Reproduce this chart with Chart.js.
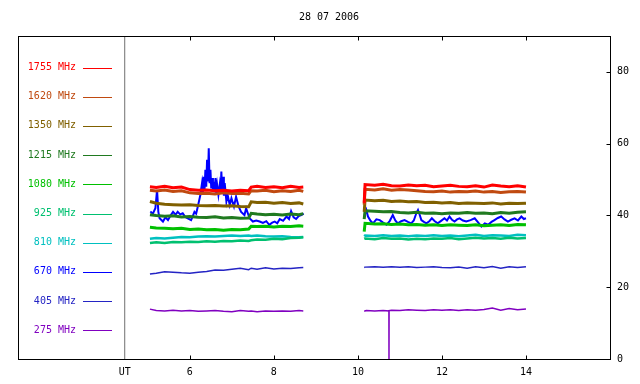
<!DOCTYPE html>
<html>
<head>
<meta charset="utf-8">
<script src="https://cdn.jsdelivr.net/npm/chart.js@4"></script>
<style>
  html, body { margin: 0; padding: 0; background: #fff; }
  #wrap { width: 640px; height: 384px; }
</style>
</head>
<body>
<div id="wrap"><canvas id="c" width="640" height="384"></canvas></div>
<script>
// chart data (UT hours, flux)
const TITLE = '28 07 2006';
const X_TICKS = [6, 8, 10, 12, 14];
const Y_TICKS = [0, 20, 40, 60, 80];
const UT_X = 4.45;

const TIMES = [5.05, 5.2, 5.4, 5.6, 5.8, 6.0, 6.2, 6.4, 6.6, 6.8, 7.0, 7.2, 7.4, 7.46, 7.6, 7.8, 8.0, 8.2, 8.4, 8.6, 8.7,
  9.4,
  10.15, 10.17, 10.4, 10.6, 10.8, 11.0, 11.2, 11.4, 11.6, 11.8, 12.0, 12.2, 12.4, 12.6, 12.8, 13.0, 13.2, 13.4, 13.6, 13.8, 14.0];

const MHZ_1755 = [48.0, 47.8, 48.1, 47.7, 47.9, 47.2, 47.0, 47.1, 46.9, 47.0, 46.8, 47.0, 46.9, 47.9, 48.1, 47.8, 48.0, 47.7, 48.1, 47.8, 47.9,
  null,
  43.5, 48.6, 48.4, 48.7, 48.3, 48.2, 48.5, 48.3, 48.4, 48.0, 48.2, 48.4, 48.1, 48.0, 48.3, 47.9, 48.5, 48.2, 48.0, 48.3, 47.9];
const MHZ_1620 = [47.0, 46.8, 47.1, 46.7, 46.9, 46.3, 46.1, 46.2, 46.0, 46.3, 46.1, 46.2, 46.0, 46.9, 46.8, 47.0, 46.6, 46.9, 46.7, 47.0, 46.7,
  null,
  43.0, 47.3, 47.1, 47.4, 47.0, 47.2, 47.1, 46.9, 46.7, 46.6, 46.8, 46.5, 46.7, 46.6, 46.8, 46.5, 46.7, 46.4, 46.6, 46.7, 46.5];
const MHZ_1350 = [43.9, 43.4, 43.1, 43.0, 42.9, 43.0, 42.8, 42.7, 42.8, 42.6, 42.7, 42.5, 42.4, 43.8, 43.6, 43.7, 43.4, 43.6, 43.3, 43.5, 43.2,
  null,
  41.0, 44.3, 44.1, 44.2, 43.9, 44.0, 43.8, 43.9, 43.6, 43.7, 43.5, 43.6, 43.3, 43.5, 43.4, 43.3, 43.5, 43.2, 43.4, 43.3, 43.4];
const MHZ_1215 = [40.2, 40.0, 39.8, 39.9, 39.6, 39.7, 39.5, 39.4, 39.6, 39.3, 39.4, 39.2, 39.3, 40.6, 40.4, 40.2, 40.3, 40.1, 40.4, 40.2, 40.5,
  null,
  39.0, 41.3, 41.2, 41.0, 41.1, 40.8, 40.7, 40.9, 40.6, 40.7, 40.5, 40.7, 40.6, 40.8, 40.6, 40.7, 40.5, 40.8, 40.6, 40.9, 41.0];
const MHZ_1080 = [36.7, 36.5, 36.4, 36.3, 36.4, 36.1, 36.2, 36.0, 36.1, 35.9, 36.1, 36.0, 36.2, 37.0, 36.9, 37.0, 36.8, 37.0, 36.9, 37.1, 37.0,
  null,
  35.5, 37.8, 37.6, 37.7, 37.5, 37.6, 37.4, 37.5, 37.3, 37.4, 37.2, 37.4, 37.3, 37.2, 37.4, 37.1, 37.3, 37.4, 37.2, 37.5, 37.4];
const MHZ_925 = [32.3, 32.5, 32.3, 32.6, 32.5, 32.7, 32.6, 32.8, 32.7, 32.9, 32.8, 33.0, 32.9, 33.1, 33.3, 33.2, 33.5, 33.4, 33.7, 33.8, 33.9,
  null,
  33.5, 33.6, 33.4, 33.7, 33.5, 33.6, 33.3, 33.5, 33.4, 33.6, 33.5, 33.7, 33.4, 33.6, 33.8, 33.6, 33.7, 33.5, 33.8, 33.6, 33.7];
const MHZ_810 = [33.5, 33.7, 33.6, 33.8, 34.0, 33.9, 34.1, 34.2, 34.1, 34.3, 34.4, 34.3, 34.4, 34.3, 34.4, 34.2, 34.1, 34.2, 34.0, 33.9, 34.0,
  null,
  34.2, 34.4, 34.3, 34.5, 34.3, 34.4, 34.2, 34.4, 34.3, 34.5, 34.3, 34.4, 34.2, 34.4, 34.6, 34.3, 34.5, 34.4, 34.3, 34.6, 34.5];
const MHZ_405 = [23.7, 23.9, 24.3, 24.2, 24.0, 23.9, 24.2, 24.4, 24.8, 24.7, 25.0, 25.3, 24.9, 25.3, 25.0, 25.4, 25.1, 25.3, 25.2, 25.4, 25.5,
  null,
  25.5, 25.6, 25.7, 25.6, 25.7, 25.6, 25.7, 25.5, 25.6, 25.7, 25.5, 25.4, 25.6, 25.3, 25.7, 25.4, 25.8, 25.3, 25.7, 25.5, 25.7];

// 670 MHz is the burst channel, sampled finer
const T_670 = [5.06, 5.12, 5.18, 5.22, 5.25, 5.28, 5.36, 5.42, 5.48, 5.54, 5.6, 5.66, 5.71, 5.77, 5.83, 5.89, 5.95, 6.03, 6.07, 6.11,
  6.15, 6.19, 6.25, 6.29, 6.31, 6.33, 6.35, 6.37, 6.39, 6.41, 6.43, 6.45, 6.47, 6.49, 6.51, 6.53, 6.55, 6.57, 6.59, 6.61, 6.63, 6.65,
  6.68, 6.71, 6.73, 6.75, 6.77, 6.79, 6.81, 6.83, 6.87, 6.9, 6.95, 6.99, 7.05, 7.1, 7.16, 7.22, 7.3, 7.34, 7.42, 7.5, 7.58, 7.66,
  7.74, 7.82, 7.89, 7.96, 8.02, 8.08, 8.14, 8.22, 8.3, 8.36, 8.41, 8.47, 8.53, 8.59, 8.65, 8.71,
  9.4,
  10.16, 10.2, 10.24, 10.3, 10.36, 10.44, 10.52, 10.6, 10.68, 10.76, 10.83, 10.89, 10.95, 11.03, 11.11, 11.19, 11.27, 11.33, 11.39,
  11.43, 11.47, 11.51, 11.57, 11.63, 11.7, 11.76, 11.83, 11.9, 11.98, 12.06, 12.12, 12.18, 12.24, 12.3, 12.36, 12.42, 12.5, 12.58,
  12.68, 12.78, 12.86, 12.94, 13.02, 13.1, 13.18, 13.25, 13.33, 13.41, 13.49, 13.57, 13.65, 13.73, 13.81, 13.89, 13.95, 14.0];
const MHZ_670 = [41.1, 40.5, 42.0, 47.1, 41.0, 39.2, 38.3, 39.5, 38.7, 40.0, 41.0, 40.2, 41.0, 40.3, 40.6, 39.6, 39.2, 38.7, 39.8, 41.0,
  40.5, 42.5, 45.7, 49.0, 46.5, 50.8, 47.2, 52.7, 48.0, 55.5, 49.5, 58.7, 49.0, 52.7, 47.5, 50.4, 46.8, 49.4, 46.5, 50.4, 46.2, 48.5,
  45.8, 48.5, 46.0, 52.2, 46.5, 50.8, 45.5, 49.0, 43.9, 45.7, 42.9, 44.8, 42.5, 45.2, 42.5, 41.0, 40.1, 42.0, 39.2, 38.3, 38.6, 38.3,
  37.9, 38.4, 37.4, 38.0, 38.3, 37.8, 39.0, 38.5, 39.7, 39.0, 41.2, 39.5, 39.0, 39.8, 40.1, 40.5,
  null,
  40.1, 41.5, 39.7, 38.5, 37.8, 38.9, 38.7, 38.0, 37.4, 38.5, 40.1, 38.6, 37.8, 38.4, 38.7, 38.2, 37.8, 38.6, 40.6,
  41.5, 40.2, 38.7, 38.2, 37.8, 38.4, 39.2, 38.4, 37.8, 38.5, 39.2, 38.6, 39.7, 38.8, 38.3, 38.9, 39.2, 38.6, 38.3,
  38.7, 39.2, 38.1, 36.9, 37.8, 37.4, 38.2, 38.7, 39.3, 39.7, 38.9, 38.3, 38.8, 39.2, 38.6, 39.7, 39.0, 39.2];

// 275 MHz has a single dropout to zero after 10 UT
const T_275 = [5.05, 5.2, 5.4, 5.6, 5.8, 6.0, 6.2, 6.4, 6.6, 6.8, 7.0, 7.2, 7.4, 7.46, 7.6, 7.8, 8.0, 8.2, 8.4, 8.6, 8.7,
  9.4,
  10.15, 10.2, 10.4, 10.6, 10.738, 10.74, 10.742, 10.8, 11.0, 11.2, 11.4, 11.6, 11.8, 12.0, 12.2, 12.4, 12.6, 12.8, 13.0, 13.2, 13.4, 13.6, 13.8, 14.0];
const MHZ_275 = [13.9, 13.5, 13.4, 13.6, 13.4, 13.5, 13.3, 13.4, 13.5, 13.3, 13.2, 13.5, 13.3, 13.4, 13.2, 13.4, 13.3, 13.4, 13.3, 13.5, 13.4,
  null,
  13.3, 13.5, 13.4, 13.5, 13.4, 0, 13.5, 13.6, 13.5, 13.7, 13.6, 13.5, 13.7, 13.6, 13.7, 13.5, 13.7, 13.6, 13.8, 14.2, 13.6, 14.1, 13.7, 13.9];

const LABELS = ['1755 MHz', '1620 MHz', '1350 MHz', '1215 MHz', '1080 MHz', '925 MHz', '810 MHz', '670 MHz', '405 MHz', '275 MHz'];
const COLORS = ['#ff0000', '#c04a10', '#806000', '#207a20', '#00c000', '#00c070', '#00c0c0', '#0000ff', '#2424c4', '#8000c0'];

const toPoints = (times, vals) => times.map((t, i) => ({ x: t, y: vals[i] }));

const seriesData = [
  toPoints(TIMES, MHZ_1755),
  toPoints(TIMES, MHZ_1620),
  toPoints(TIMES, MHZ_1350),
  toPoints(TIMES, MHZ_1215),
  toPoints(TIMES, MHZ_1080),
  toPoints(TIMES, MHZ_925),
  toPoints(TIMES, MHZ_810),
  toPoints(T_670, MHZ_670),
  toPoints(TIMES, MHZ_405),
  toPoints(T_275, MHZ_275),
];
const widths = [3, 3, 3, 3, 3, 2.5, 2.5, 2, 1.5, 1.5];

const FONT = { family: 'DejaVu Sans Mono', size: 10 };

const datasets = seriesData.map((d, i) => ({
  label: LABELS[i],
  data: d,
  borderColor: COLORS[i],
  borderWidth: widths[i],
  pointRadius: 0,
  tension: 0,
  spanGaps: false,
}));
// separator line of the legend box
datasets.push({
  label: 'UT',
  data: [{ x: UT_X, y: 0 }, { x: UT_X, y: 90 }],
  borderColor: '#707070',
  borderWidth: 1,
  pointRadius: 0,
});

// frame, inner ticks and the channel list on the left
const decor = {
  id: 'decor',
  afterDraw(chart) {
    const { ctx, chartArea: a, scales } = chart;
    ctx.save();
    ctx.strokeStyle = '#000';
    ctx.lineWidth = 1;
    const l = Math.floor(a.left) + 0.5, r = Math.floor(a.right) + 0.5;
    const t = Math.floor(a.top) + 0.5, b = Math.floor(a.bottom) + 0.5;
    ctx.strokeRect(l, t, r - l, b - t);
    ctx.beginPath();
    X_TICKS.forEach(v => {
      const px = Math.round(scales.x.getPixelForValue(v)) + 0.5;
      ctx.moveTo(px, b); ctx.lineTo(px, b - 4);
      ctx.moveTo(px, t); ctx.lineTo(px, t + 4);
    });
    Y_TICKS.slice(1).forEach(v => {
      const py = Math.round(scales.y.getPixelForValue(v)) + 0.5;
      ctx.moveTo(r, py); ctx.lineTo(r - 4, py);
    });
    ctx.stroke();

    ctx.font = '10px "DejaVu Sans Mono"';
    ctx.textAlign = 'right';
    ctx.textBaseline = 'middle';
    LABELS.forEach((lab, i) => {
      const y = 67.5 + i * 29.2;
      ctx.fillStyle = COLORS[i];
      ctx.fillText(lab, 76, y);
      ctx.strokeStyle = COLORS[i];
      ctx.beginPath();
      ctx.moveTo(83, Math.round(y) + 0.5);
      ctx.lineTo(112, Math.round(y) + 0.5);
      ctx.stroke();
    });
    ctx.restore();
  }
};

new Chart(document.getElementById('c'), {
  type: 'line',
  data: { datasets },
  options: {
    responsive: false,
    animation: false,
    layout: { padding: { left: 18, right: 0, top: 0, bottom: 0 } },
    plugins: {
      legend: { display: false },
      tooltip: { enabled: false },
      title: {
        display: true,
        text: TITLE,
        color: '#000',
        font: { ...FONT, weight: 'normal' },
        padding: { top: 11, bottom: 13 },
      },
    },
    scales: {
      x: {
        type: 'linear',
        min: 1.91,
        max: 16,
        grid: { display: false, drawTicks: false },
        border: { display: false },
        afterBuildTicks: s => { s.ticks = [UT_X, ...X_TICKS].map(v => ({ value: v })); },
        afterFit: s => { s.height = 25; },
        ticks: {
          color: '#000',
          font: FONT,
          padding: 7,
          maxRotation: 0,
          autoSkip: false,
          callback: v => (v === UT_X ? 'UT' : v),
        },
      },
      y: {
        position: 'right',
        min: 0,
        max: 90,
        grid: { display: false, drawTicks: false },
        border: { display: false },
        afterBuildTicks: s => { s.ticks = Y_TICKS.map(v => ({ value: v })); },
        afterFit: s => { s.width = 30; },
        ticks: { color: '#000', font: FONT, padding: 7 },
      },
    },
  },
  plugins: [decor],
});
</script>
</body>
</html>
